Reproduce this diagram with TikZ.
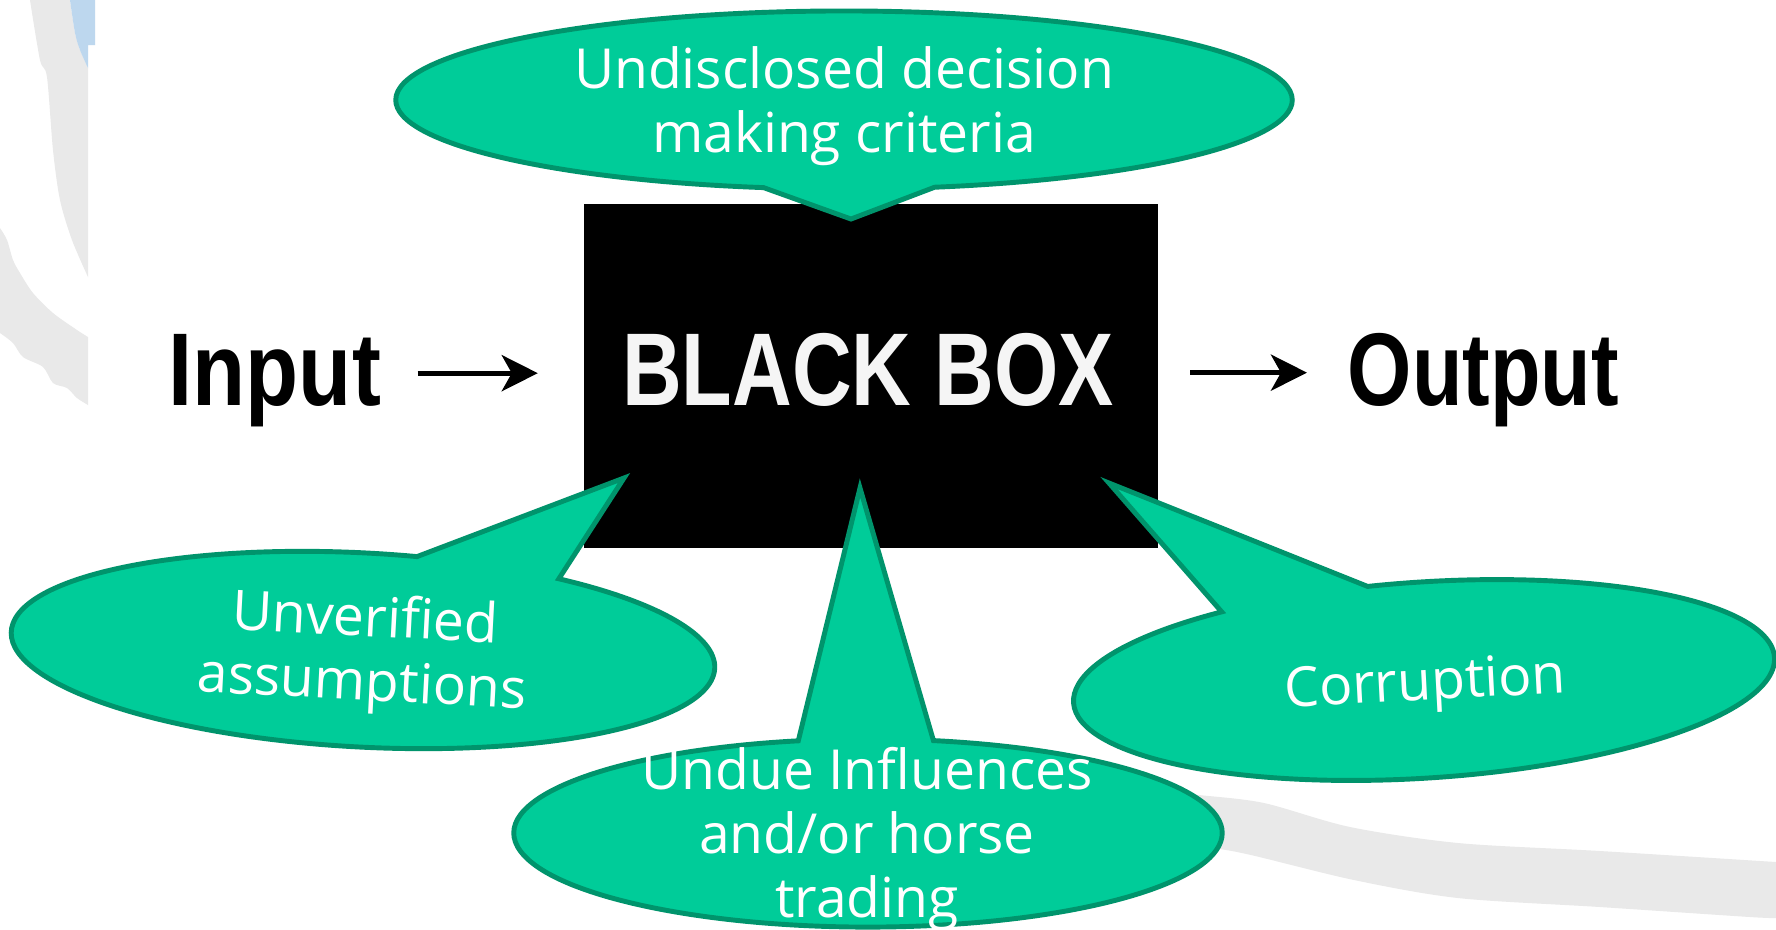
\documentclass[tikz,border=0pt]{standalone}
\usepackage{fontspec}
\newfontfamily\bubblefont{Open Sans}
\newfontfamily\headfont{Liberation Sans}[FakeStretch=0.8]
\usetikzlibrary{shapes.callouts,arrows.meta}
\definecolor{bubblegreen}{RGB}{0,204,153}
\definecolor{bubbleedge}{RGB}{0,148,108}
\definecolor{smudge}{RGB}{233,233,233}
\definecolor{smudgeblue}{RGB}{189,215,238}
\definecolor{boxwhite}{RGB}{245,245,245}

\begin{document}
\begin{tikzpicture}[x=0.01cm, y=-0.01cm,
    bubble/.style={ellipse callout, fill=bubblegreen, draw=bubbleedge, line width=1.4pt, inner sep=0pt, outer sep=0pt},
    bubbletext/.style={text=white, align=center, inner sep=0pt, anchor=base, font=\bubblefont\fontsize{15.7pt}{18.2pt}\selectfont},
    headtext/.style={inner sep=0pt, anchor=base west, font=\headfont\bfseries\fontsize{29.4pt}{30pt}\selectfont},
    flow/.style={-{Stealth[length=0.36cm, width=0.36cm, inset=0.1cm]}, line width=1.5pt}]
    \useasboundingbox (0,0) rectangle (1776,929);
    \fill[white] (0,0) rectangle (1776,929);

    % slide background smudges
    \fill[smudge] plot[smooth] coordinates {(30,0) (40,60) (47,77) (53,150) (60,200) (72,240) (88,277)}
        -- (88,68) -- plot[smooth] coordinates {(80,50) (75,33) (70,0)} -- cycle;
    \fill[smudgeblue] plot[smooth] coordinates {(70,0) (75,33) (80,50) (88,68)} -- (88,45) -- (95,45) -- (95,0) -- cycle;
    \fill[smudge] plot[smooth] coordinates {(0,228) (7,240) (13,260) (20,273) (33,293) (53,313) (77,330) (88,337)}
        -- plot[smooth] coordinates {(88,405) (77,398) (67,388) (53,383) (43,367) (23,357) (13,343) (0,333)} -- cycle;
    \fill[smudge] plot[smooth] coordinates {(1150,790) (1199,795) (1264,803) (1350,827) (1458,843) (1600,851) (1776,862)}
        -- plot[smooth] coordinates {(1776,918) (1750,917) (1600,907) (1458,898) (1354,880) (1251,855) (1212,848) (1150,842)} -- cycle;

    \node[fill=black, minimum width=5.74cm, minimum height=3.44cm, inner sep=0pt, outer sep=0pt] (box) at (871,376) {};
    \node[headtext, anchor=base, text=boxwhite] (boxlabel) at (868,405) {BLACK BOX};
    \node[headtext] (input) at (168,405) {\scalebox{1.05}[1]{Input}};
    \node[headtext] (output) at (1347,405) {Output};

    \draw[flow, shorten <=0.36cm, shorten >=0.46cm] ([yshift=0.07cm]input.east) -- ([yshift=0.07cm]input.east -| box.west);
    \draw[flow, shorten <=0.32cm, shorten >=0.40cm] ([yshift=0.07cm]output.west -| box.east) -- ([yshift=0.07cm]output.west);

    % pointer tips inside the box
    \coordinate (tipcrit) at (851,219);
    \coordinate (tipassume) at (624,478);
    \coordinate (tipundue) at (860,488);
    \coordinate (tipcorrupt) at (1109,483);

    \node[bubble, minimum width=8.96cm, minimum height=1.78cm, callout pointer arc=22,
        callout absolute pointer={(tipcrit)}] (criteria) at (844,100) {};
    \node[bubble, minimum width=7.04cm, minimum height=1.94cm, callout pointer arc=25, rotate=-3,
        callout absolute pointer={(tipassume)}] (assume) at (363,650) {};
    \node[bubble, minimum width=7.08cm, minimum height=1.88cm, callout pointer arc=22,
        callout absolute pointer={(tipundue)}] (undue) at (868,833) {};
    \node[bubble, minimum width=7.02cm, minimum height=1.96cm, callout pointer arc=26, rotate=3.7,
        callout absolute pointer={(tipcorrupt)}] (corrupt) at (1424,680) {};

    \node[bubbletext] (criterialabel) at (844,152) {Undisclosed decision\\making criteria};
    \node[bubbletext, rotate=-3] (assumelabel) at (361,700) {Unverified\\assumptions};
    \node[bubbletext] (unduelabel) at (867,917) {Undue Influences\\and/or horse\\trading};
    \node[bubbletext, rotate=3] (corruptlabel) at (1426,700) {Corruption};
\end{tikzpicture}
\end{document}
